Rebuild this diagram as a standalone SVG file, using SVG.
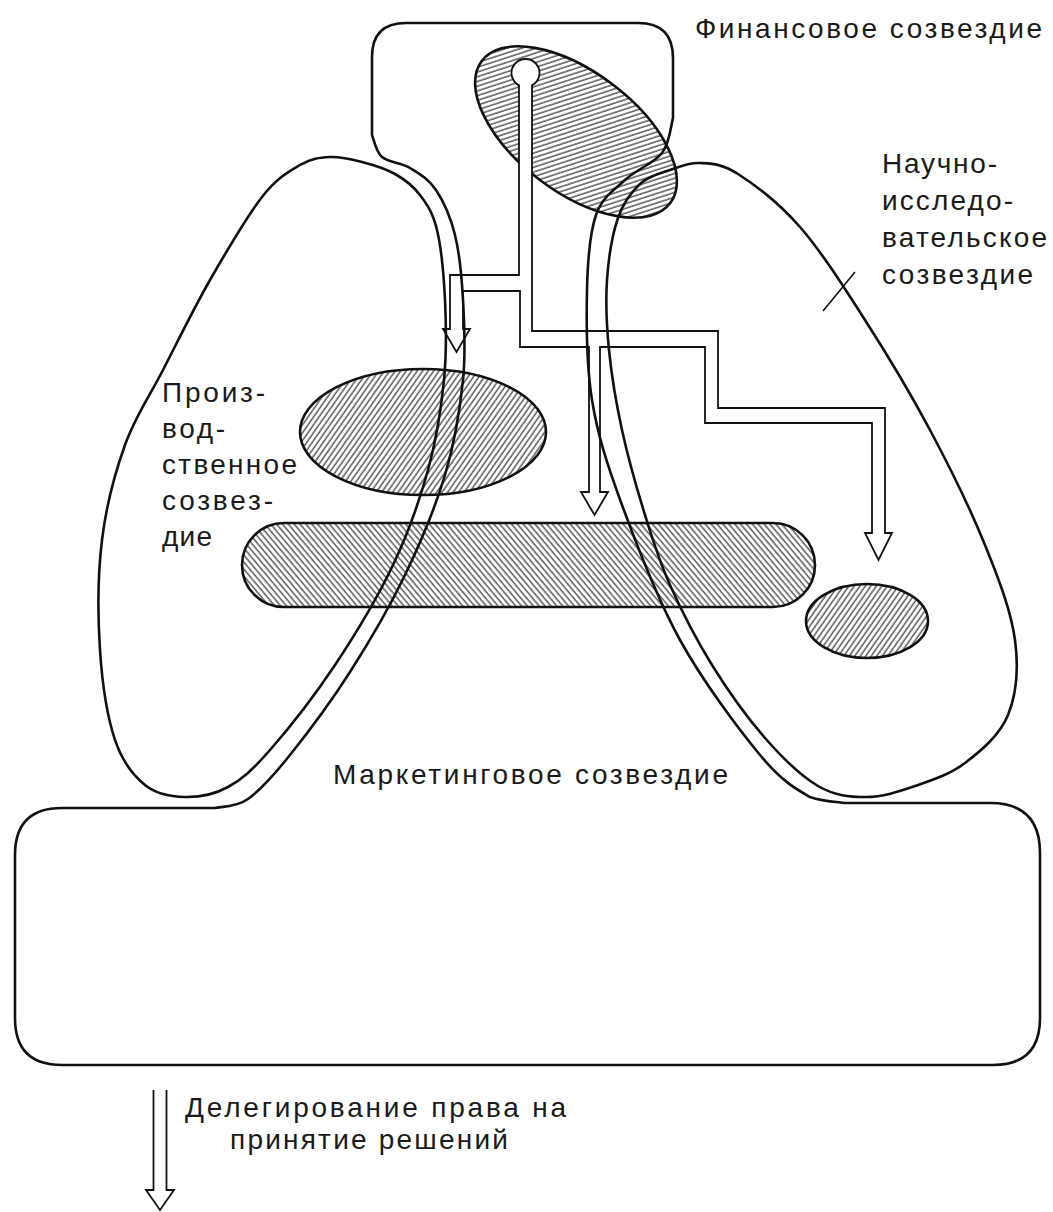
<svg xmlns="http://www.w3.org/2000/svg" width="1053" height="1212" viewBox="0 0 1053 1212">
<style>
.ol{fill:none;stroke:#111;stroke-width:2.6;stroke-linejoin:round;stroke-linecap:round}
.br{fill:none;stroke:#111;stroke-width:1.8;stroke-linejoin:miter}
.ha{stroke:#111;stroke-width:2.6}
.t{font-family:"Liberation Sans",Arial,sans-serif;font-size:28px;fill:#1a1a1a}
</style>
<defs>
<pattern id="hs" width="4.5" height="4.5" patternUnits="userSpaceOnUse" patternTransform="rotate(35)">
<rect width="4.5" height="4.5" fill="#fff"/>
<line x1="1" y1="0" x2="1" y2="4.5" stroke="#333" stroke-width="1.2"/>
</pattern>
<pattern id="hb" width="4.5" height="4.5" patternUnits="userSpaceOnUse" patternTransform="rotate(-40)">
<rect width="4.5" height="4.5" fill="#fff"/>
<line x1="1" y1="0" x2="1" y2="4.5" stroke="#333" stroke-width="1.2"/>
</pattern>
</defs>
<rect width="1053" height="1212" fill="#fff"/>

<g id="finance-core">
<ellipse class="ha" cx="576" cy="132" rx="118" ry="60" transform="rotate(37 576 132)" fill="url(#hs)"/>
<rect x="519" y="80" width="13" height="170" fill="#fff"/>
<circle cx="525.5" cy="73" r="14" fill="#fff"/>
</g>
<g id="production-core">
<ellipse class="ha" cx="423" cy="432" rx="123" ry="63" fill="url(#hs)"/>
</g>
<g id="shared-bar">
<rect class="ha" x="242" y="523" width="573" height="84" rx="42" fill="url(#hb)"/>
</g>
<g id="rd-core">
<ellipse class="ha" cx="867" cy="621" rx="61" ry="37" fill="url(#hs)"/>
</g>

<g id="production-lobe">
<path class="ol" d="M330,157 C340.3,156.5 351.2,159.2 362,162 C372.8,164.8 385.3,168.5 395,174 C404.7,179.5 413,185.7 420,195 C427,204.3 432.8,212.5 437,230 C441.2,247.5 443.8,275 445,300 C446.2,325 446.8,351.7 444,380 C441.2,408.3 436.5,439.2 428,470 C419.5,500.8 408.5,532.5 393,565 C377.5,597.5 355.5,634.2 335,665 C314.5,695.8 287.8,729.7 270,750 C252.2,770.3 242.2,779.2 228,787 C213.8,794.8 198.8,797.3 185,797 C171.2,796.7 156.7,794.5 145,785 C133.3,775.5 122.5,762.5 115,740 C107.5,717.5 102.2,683.3 100,650 C97.8,616.7 97.8,574.2 102,540 C106.2,505.8 114.8,473.3 125,445 C135.2,416.7 148.8,397.5 163,370 C177.2,342.5 193.5,308.8 210,280 C226.5,251.2 247,216.2 262,197 C277,177.8 288.7,171.7 300,165 C311.3,158.3 319.7,157.5 330,157 Z"/>
</g>
<g id="rd-lobe">
<path class="ol" d="M700,163 C711.3,163.7 721.3,163.3 738,174 C754.7,184.7 778.8,202.7 800,227 C821.2,251.3 843.3,286.2 865,320 C886.7,353.8 910,392.5 930,430 C950,467.5 970.8,510 985,545 C999.2,580 1011.2,611.7 1015,640 C1018.8,668.3 1016.3,694.5 1008,715 C999.7,735.5 980.5,751.2 965,763 C949.5,774.8 931.5,780.3 915,786 C898.5,791.7 882.2,797 866,797 C849.8,797 834.8,795.8 818,786 C801.2,776.2 782.7,758.2 765,738 C747.3,717.8 727.8,690.5 712,665 C696.2,639.5 681.2,610 670,585 C658.8,560 653,540.8 645,515 C637,489.2 628,457.5 622,430 C616,402.5 611.5,375 609,350 C606.5,325 605.5,302 607,280 C608.5,258 612.5,234 618,218 C623.5,202 631.3,192 640,184 C648.7,176 660,173.5 670,170 C680,166.5 688.7,162.3 700,163 Z"/>
<line x1="823" y1="311" x2="855" y2="272" stroke="#111" stroke-width="1.6"/>
</g>
<g id="frame-finance-marketing">
<path class="ol" d="M673,118 C671.2,123.8 670,142.7 662,153 C654,163.3 636,169.7 625,180 C614,190.3 602.3,196.7 596,215 C589.7,233.3 587.7,259.2 587,290 C586.3,320.8 586.2,364.2 592,400 C597.8,435.8 607.3,465 622,505 C636.7,545 657,598.3 680,640 C703,681.7 738.3,728.8 760,755 C781.7,781.2 795.8,789 810,797 C824,802 839.2,802 845,803 H990 Q1040,803 1040,853 V1018 Q1040,1065 993,1065 H62 Q15,1065 15,1018 V855 Q15,808 62,808 H215 C220.5,806.5 235.5,807.8 248,799 C260.5,790.2 273,776.2 290,755 C307,733.8 330.8,702 350,672 C369.2,642 389.2,607.8 405,575 C420.8,542.2 435.3,507.5 445,475 C454.7,442.5 460,409.2 463,380 C466,350.8 464.3,324.2 463,300 C461.7,275.8 459.5,253.3 455,235 C450.5,216.7 443.5,201.2 436,190 C428.5,178.8 419,173.5 410,168 C401,162.5 388.3,162.5 382,157 C375.7,151.5 373.7,138.7 372,135 V57 Q372,23 406,23 H638 Q673,23 673,58 Z"/>
</g>

<g id="connectors">
<path class="br" d="M519,275 V85.4 A14,14 0 1 1 532,85.4 V331 H718 V408 H885 V533 H892 L878.5,560 L865,533 H872 V423 H705 V347 H600 V492 H608 L594.5,515 L581,492 H589 V347 H520 V291 H463 V329 H470 L456.5,352 L443,329 H450 V275 Z"/>
<path class="br" d="M153.5,1090 V1190 H146 L160,1210 L174,1190 H166.5 V1090"/>
</g>

<g id="labels">
<text class="t" x="695" y="38" textLength="347" lengthAdjust="spacing">Финансовое созвездие</text>
<text class="t" x="882" y="173" textLength="115" lengthAdjust="spacing">Научно-</text>
<text class="t" x="882" y="210" textLength="131" lengthAdjust="spacing">исследо-</text>
<text class="t" x="882" y="247" textLength="165" lengthAdjust="spacing">вательское</text>
<text class="t" x="882" y="284" textLength="151" lengthAdjust="spacing">созвездие</text>
<text class="t" x="162" y="402" textLength="103" lengthAdjust="spacing">Произ-</text>
<text class="t" x="162" y="438" textLength="63" lengthAdjust="spacing">вод-</text>
<text class="t" x="162" y="474" textLength="135" lengthAdjust="spacing">ственное</text>
<text class="t" x="162" y="510" textLength="111" lengthAdjust="spacing">созвез-</text>
<text class="t" x="162" y="546" textLength="50" lengthAdjust="spacing">дие</text>
<text class="t" x="333" y="784" textLength="395" lengthAdjust="spacing">Маркетинговое созвездие</text>
<text class="t" x="185" y="1117" textLength="381" lengthAdjust="spacing">Делегирование права на</text>
<text class="t" x="230" y="1149" textLength="278" lengthAdjust="spacing">принятие решений</text>
</g>
</svg>
